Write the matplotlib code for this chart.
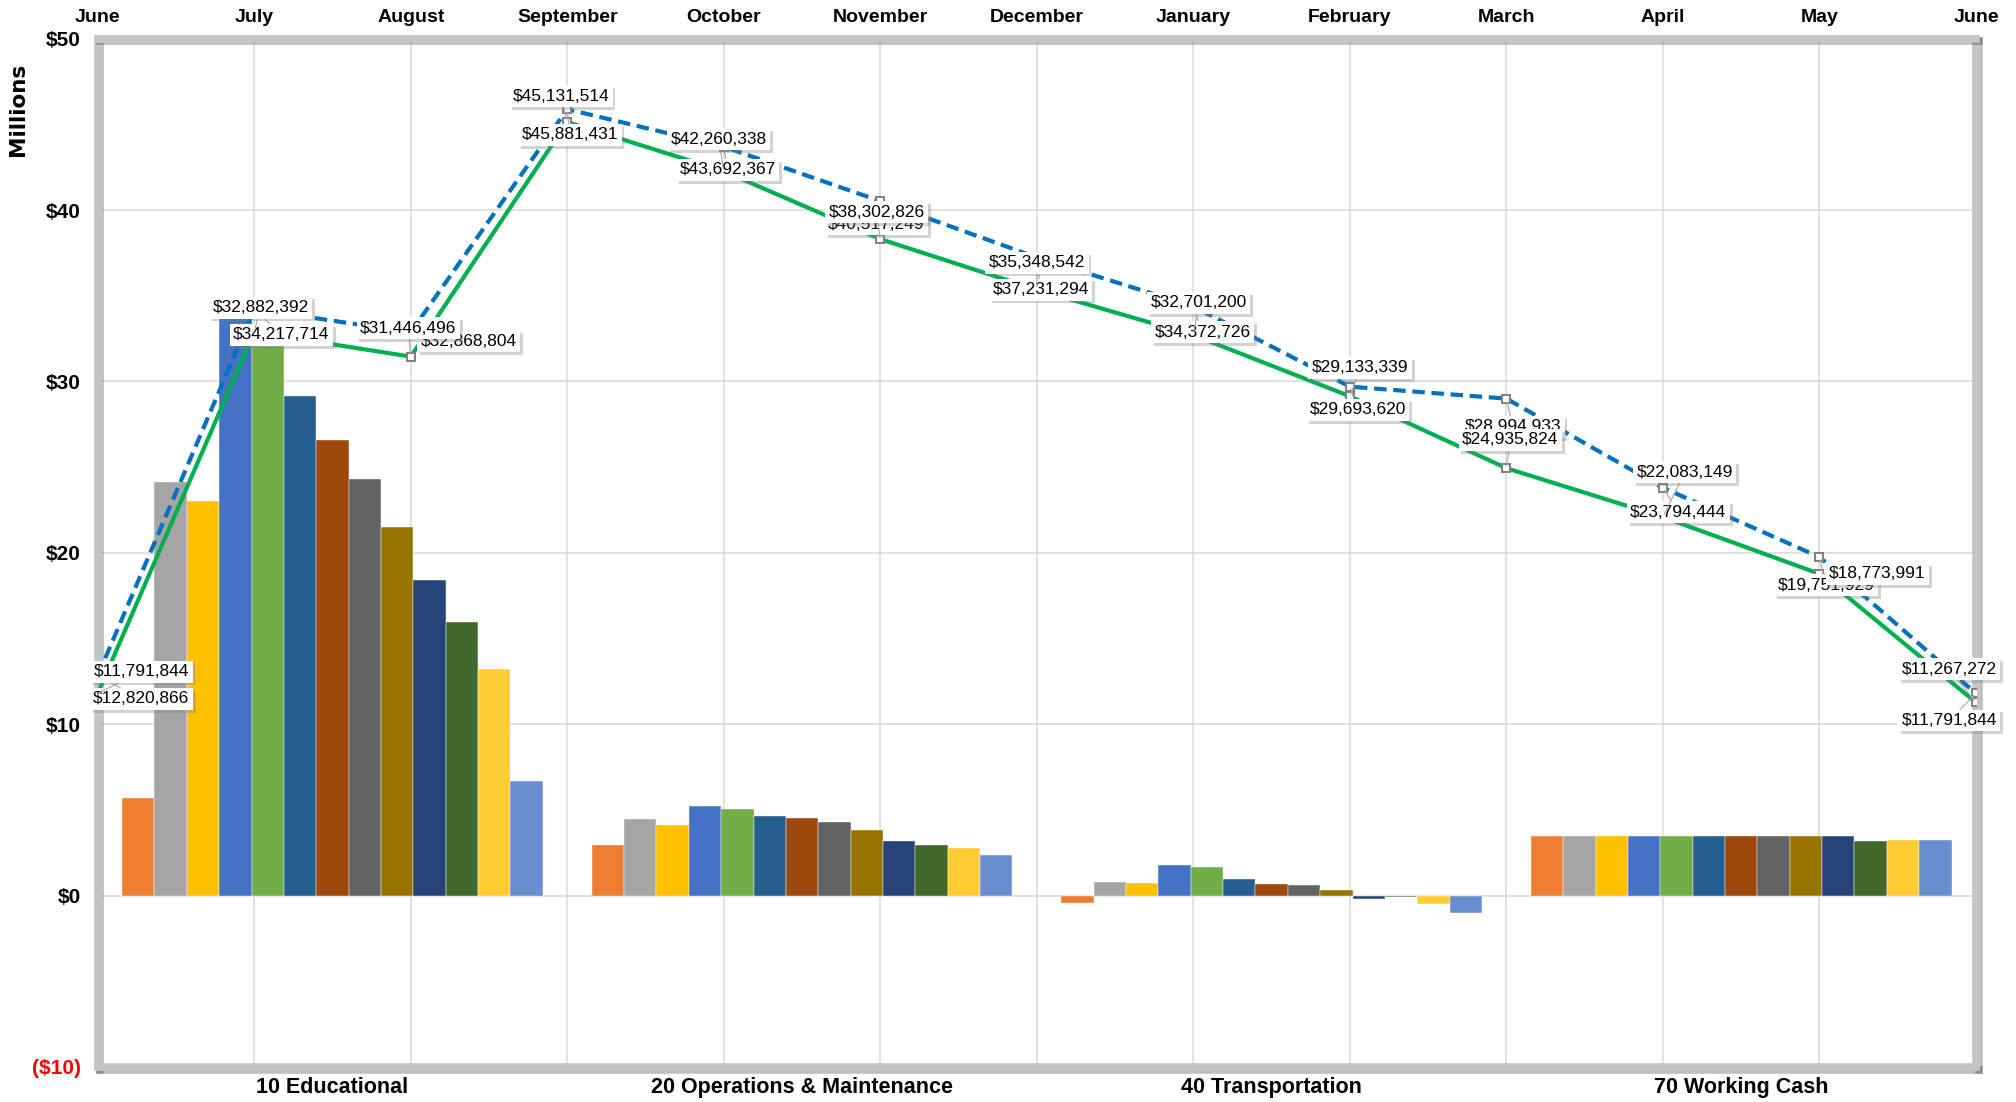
import matplotlib
matplotlib.use('Agg')
import matplotlib.pyplot as plt
import matplotlib.patheffects as pe
import numpy as np

# ---------------- data ----------------
funds = ['10 Educational', '20 Operations & Maintenance', '40 Transportation', '70 Working Cash']
months = ['June', 'July', 'August', 'September', 'October', 'November', 'December',
          'January', 'February', 'March', 'April', 'May', 'June']

# monthly fund balances, $ millions (June .. June)
educational = [5.71, 24.12, 23.05, 34.61, 32.08, 29.14, 26.58, 24.31, 21.52, 18.42, 15.98, 13.20, 6.66]
operations = [2.98, 4.47, 4.09, 5.25, 5.03, 4.66, 4.55, 4.30, 3.81, 3.19, 2.96, 2.80, 2.34]
transportation = [-0.41, 0.78, 0.76, 1.79, 1.67, 0.97, 0.70, 0.59, 0.30, -0.19, -0.09, -0.51, -1.03]
working_cash = [3.48, 3.48, 3.48, 3.48, 3.48, 3.48, 3.48, 3.48, 3.48, 3.48, 3.21, 3.27, 3.27]

# total balances, $
current_total = [11791844, 32882392, 31446496, 45131514, 42260338, 38302826, 35348542,
                 32701200, 29133339, 24935824, 22083149, 18773991, 11267272]
prior_total = [12820866, 34217714, 32868804, 45881431, 43692367, 40517249, 37231294,
               34372726, 29693620, 28994933, 23794444, 19751929, 11791844]

y_ticks = [-10, 0, 10, 20, 30, 40, 50]

# ---------------- styles ----------------
bar_colors = ['#ED7D31', '#A5A5A5', '#FFC000', '#4472C4', '#70AD47', '#255E91', '#9E480E',
              '#636363', '#997300', '#264478', '#43682B', '#FFCD33', '#698ED0']
# label offsets (reference px at 1568 wide)
cur_off = [(34, -17), (5, -19), (-2, -22), (-5, -20), (-4, -25), (-3, -21), (0, -21),
           (4, -25), (8, -22), (3, -22), (17, -35), (45, 0), (-21, -26)]
pri_off = [(34, 18), (21, 20), (45, 7), (2, 20), (3, 18), (-3, 18), (3, 25),
           (7, 20), (6, 18), (5, 22), (12, 19), (5, 22), (-21, 21)]
SC = 2016 / 1568

W, H = 2016, 1102
fig = plt.figure(figsize=(W / 100, H / 100), dpi=100)
L, R, T, B = 97.7, 1976, 38.6, 1067
ax = fig.add_axes([L / W, 1 - B / H, (R - L) / W, (B - T) / H])

funds_data = np.array([educational, operations, transportation, working_cash])  # 4 x 13
ngroups = len(funds)
nser = len(months)
group_w = 0.896
bw = group_w / nser
xc = np.arange(ngroups)
for j in range(nser):
    ax.bar(xc - group_w / 2 + (j + 0.5) * bw, funds_data[:, j], width=bw,
           color=bar_colors[j], edgecolor='white', linewidth=0.3, zorder=2)

ax.set_xlim(-0.5, ngroups - 0.5)
ax.set_ylim(y_ticks[0], y_ticks[-1])
ax.set_yticks(y_ticks)
ylabels = [f'${v}' if v >= 0 else f'(${-v})' for v in y_ticks]
ax.set_yticklabels(ylabels, fontsize=15, fontweight='bold', family='Liberation Sans')
for lab, v in zip(ax.get_yticklabels(), y_ticks):
    lab.set_color('red' if v < 0 else 'black')
ax.set_xticks(xc)
ax.set_xticklabels(funds, fontsize=15.5, fontweight='bold', family='Liberation Sans')
# month grid positions expressed in category coordinates
ax.set_xticks(np.linspace(-0.5, ngroups - 0.5, nser), minor=True)
ax.tick_params(axis='both', which='both', length=0)
ax.tick_params(axis='y', pad=12)
ax.tick_params(axis='x', pad=7)
ax.grid(True, axis='y', color='#D9D9D9', lw=1.1, zorder=0)
ax.grid(True, axis='x', which='minor', color='#D9D9D9', lw=1.1, zorder=0)
ax.grid(False, axis='x', which='major')
ax.set_axisbelow(True)
for sp in ax.spines.values():
    sp.set_color('#C4C4C4')
    sp.set_linewidth(5.5)
    sp.set_path_effects([pe.SimpleLineShadow(offset=(2, -2), alpha=0.25), pe.Normal()])

# ---------------- lines on top axis ----------------
ax2 = ax.twiny()
ax2.set_xlim(0, nser - 1)
ax2.set_ylim(ax.get_ylim())
xm = np.arange(nser)
cur = np.array(current_total) / 1e6
pri = np.array(prior_total) / 1e6
ax2.plot(xm, pri, color='#0070C0', lw=3, ls=(0, (3, 1.6)), zorder=3)
ax2.plot(xm, cur, color='#00B050', lw=3, zorder=3.5)
ax2.plot(xm, pri, ls='none', marker='s', ms=5.5, mfc='white', mec='#7F7F7F', mew=1.4, zorder=4)
ax2.plot(xm, cur, ls='none', marker='s', ms=5.5, mfc='white', mec='#7F7F7F', mew=1.4, zorder=4)
ax2.set_xticks(xm)
ax2.set_xticklabels(months, fontsize=14, fontweight='bold', family='Liberation Sans')
ax2.tick_params(axis='x', length=0, pad=9)
for sp in ax2.spines.values():
    sp.set_visible(False)


def add_labels(vals_dollars, vals, offs, z):
    for i, (vd, v, (dx, dy)) in enumerate(zip(vals_dollars, vals, offs)):
        t = ax2.annotate(f'${vd:,.0f}', xy=(xm[i], v), xytext=(dx * SC, -dy * SC),
                         textcoords='offset pixels', ha='center', va='center',
                         fontsize=12.5, family='Liberation Sans', color='black',
                         bbox=dict(boxstyle='square,pad=0.2', fc='white', ec='none'),
                         arrowprops=dict(arrowstyle='-', color='#A6A6A6', lw=0.8,
                                         shrinkA=0, shrinkB=2),
                         zorder=z)
        t.get_bbox_patch().set_path_effects(
            [pe.SimplePatchShadow(offset=(2, -2), shadow_rgbFace='#808080', alpha=0.35), pe.Normal()])


add_labels(prior_total, pri, pri_off, 5)
add_labels(current_total, cur, cur_off, 6)

fig.text(18 / W, 1 - 109 / H, 'Millions', rotation=90, ha='center', va='center',
         fontsize=15.5, fontweight='bold', family='DejaVu Sans')

fig.savefig('out.png', dpi=100, facecolor='white')
